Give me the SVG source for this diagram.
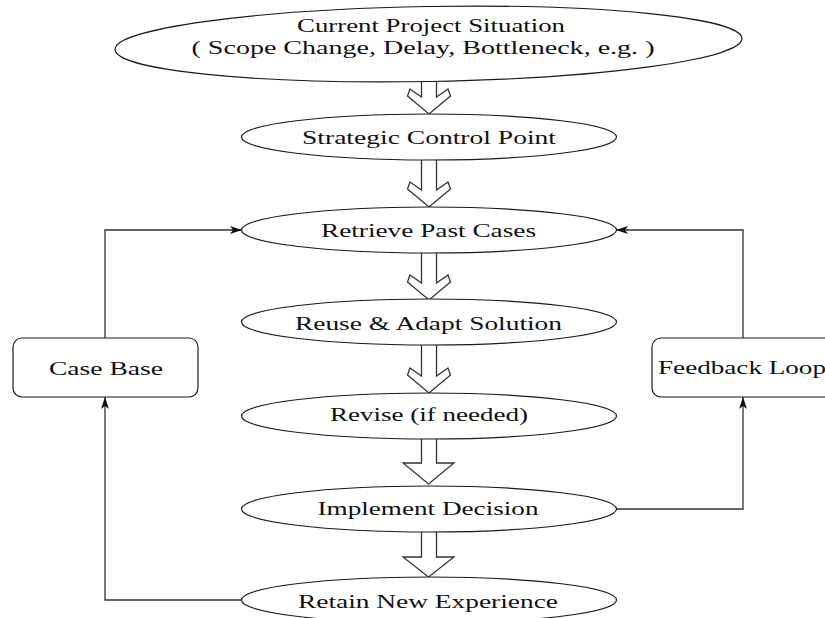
<svg xmlns="http://www.w3.org/2000/svg" width="825" height="618" viewBox="0 0 825 618">
<defs>
<style>
.node{fill:#ffffff;stroke:#1a1a1a;stroke-width:1.2}
.lbl{font-family:"Liberation Serif","Times New Roman",serif;font-size:19px;fill:#111;text-anchor:middle}
.hollow{fill:#ffffff;stroke:#333;stroke-width:1.3;stroke-linejoin:miter}
.conn{fill:none;stroke:#333;stroke-width:1.3}
</style>
<marker id="ah" markerUnits="userSpaceOnUse" markerWidth="12" markerHeight="8" refX="12" refY="4" orient="auto">
<path d="M0,0 L12,4 L0,8 L3,4 Z" fill="#111"/>
</marker>
</defs>
<rect width="825" height="618" fill="#ffffff"/>

<g id="connectors">
<path class="hollow" d="M421.5 82 L421.5 97 L410 89 L407.5 96 L429 114 L450.5 96 L448 89 L436.5 97 L436.5 82"/>
<path class="hollow" d="M421.5 160 L421.5 190 L410 182 L407.5 189 L429 207 L450.5 189 L448 182 L436.5 190 L436.5 160"/>
<path class="hollow" d="M421.5 253 L421.5 283 L410 275 L407.5 282 L429 300 L450.5 282 L448 275 L436.5 283 L436.5 253"/>
<path class="hollow" d="M421.5 345 L421.5 376 L410 368 L407.5 375 L429 393 L450.5 375 L448 368 L436.5 376 L436.5 345"/>
<path class="hollow" d="M421.5 439 L421.5 463 L403 463 L428.5 484 L454 463 L436.5 463 L436.5 439"/>
<path class="hollow" d="M421.5 532 L421.5 557 L403 557 L428.5 577 L454 557 L436.5 557 L436.5 532"/>
<path class="conn" d="M105 338 L105 230 L242 230" marker-end="url(#ah)"/>
<path class="conn" d="M242 600 L105 600 L105 397" marker-end="url(#ah)"/>
<path class="conn" d="M616 509 L743 509 L743 397" marker-end="url(#ah)"/>
<path class="conn" d="M743 338 L743 230 L616 230" marker-end="url(#ah)"/>
</g>

<g id="current">
<ellipse class="node" cx="428.5" cy="44" rx="313.5" ry="37.5" transform="rotate(-1 428.5 44)"/>
<text class="lbl" x="431" y="32" textLength="268" lengthAdjust="spacingAndGlyphs">Current Project Situation</text>
<text class="lbl" x="423" y="54" textLength="463" lengthAdjust="spacingAndGlyphs">( Scope Change, Delay, Bottleneck, e.g. )</text>
</g>
<g id="strategic">
<ellipse class="node" cx="429" cy="137" rx="187.5" ry="23"/>
<text class="lbl" x="429" y="144" textLength="254" lengthAdjust="spacingAndGlyphs">Strategic Control Point</text>
</g>
<g id="retrieve">
<ellipse class="node" cx="429" cy="230" rx="187.5" ry="23"/>
<text class="lbl" x="428.5" y="237" textLength="215" lengthAdjust="spacingAndGlyphs">Retrieve Past Cases</text>
</g>
<g id="reuse">
<ellipse class="node" cx="429" cy="322" rx="187.5" ry="23"/>
<text class="lbl" x="428.5" y="329.5" textLength="267" lengthAdjust="spacingAndGlyphs">Reuse &amp; Adapt Solution</text>
</g>
<g id="revise">
<ellipse class="node" cx="429" cy="416" rx="187.5" ry="23"/>
<text class="lbl" x="429" y="421" textLength="198" lengthAdjust="spacingAndGlyphs">Revise (if needed)</text>
</g>
<g id="implement">
<ellipse class="node" cx="429" cy="509" rx="187.5" ry="23"/>
<text class="lbl" x="428" y="515" textLength="221" lengthAdjust="spacingAndGlyphs">Implement Decision</text>
</g>
<g id="retain">
<ellipse class="node" cx="429" cy="600" rx="187.5" ry="23"/>
<text class="lbl" x="428" y="608" textLength="260" lengthAdjust="spacingAndGlyphs">Retain New Experience</text>
</g>
<g id="casebase">
<rect class="node" x="13" y="338" width="185" height="59" rx="9" ry="9"/>
<text class="lbl" x="106" y="375" textLength="114" lengthAdjust="spacingAndGlyphs">Case Base</text>
</g>
<g id="feedback">
<rect class="node" x="652" y="338" width="185" height="59" rx="9" ry="9"/>
<text class="lbl" x="742" y="374" textLength="168" lengthAdjust="spacingAndGlyphs">Feedback Loop</text>
</g>
</svg>
